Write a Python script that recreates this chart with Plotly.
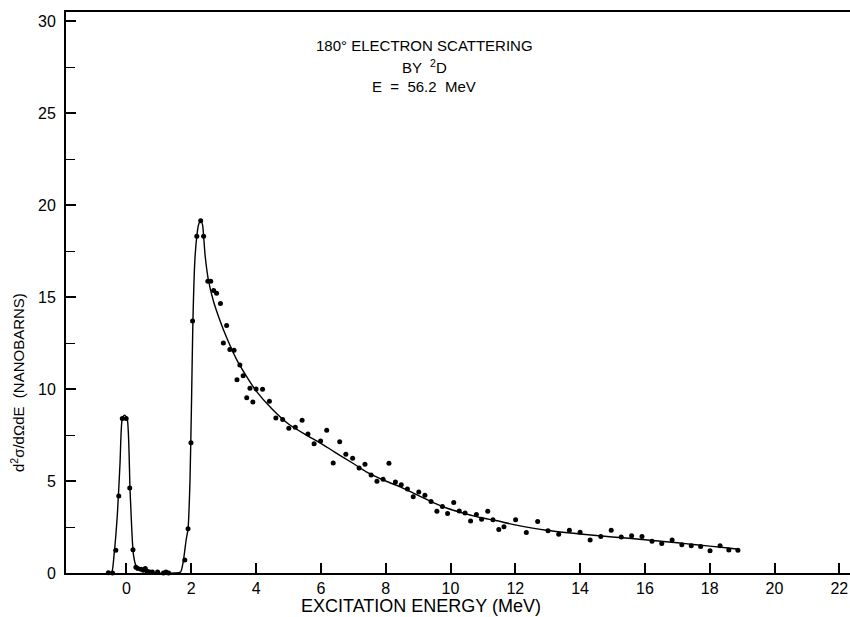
import plotly.graph_objects as go

# Measured cross section (nanobarns) vs excitation energy (MeV)
energy = [
    -0.56, -0.43, -0.33, -0.24, -0.13, -0.01, 0.10, 0.20, 0.29,
    0.35, 0.45, 0.52, 0.58, 0.64, 0.72, 0.80, 0.88, 0.96, 1.05, 1.14, 1.22, 1.30, 1.38, 1.60,
    1.80, 1.90, 1.99, 2.04, 2.17, 2.29, 2.38, 2.51, 2.60, 2.69, 2.78, 2.90, 2.99, 3.09,
    3.19, 3.32, 3.41, 3.50, 3.60, 3.71, 3.81, 3.90, 4.00, 4.20, 4.41, 4.61, 4.82, 5.01,
    5.21, 5.42, 5.60, 5.79, 5.99, 6.18, 6.38, 6.58, 6.77, 6.98, 7.18, 7.36, 7.55, 7.73,
    7.92, 8.10, 8.30, 8.48, 8.67, 8.85, 9.02, 9.21, 9.40, 9.58, 9.75, 9.91, 10.10, 10.27,
    10.45, 10.62, 10.80, 10.96, 11.15, 11.31, 11.49, 11.65, 12.01, 12.34, 12.69, 13.01,
    13.34, 13.67, 14.00, 14.31, 14.64, 14.96, 15.27, 15.59, 15.91, 16.22, 16.52, 16.84,
    17.14, 17.43, 17.72, 18.01, 18.32, 18.59, 18.87,
]
cross_section = [
    0.02, 0.0, 1.23, 4.18, 8.40, 8.40, 4.62, 1.26, 0.31,
    0.25, 0.20, 0.15, 0.25, 0.10, 0.05, 0.05, -0.15, 0.05, -0.10, 0.0, 0.05, 0.0, -0.05, -0.25,
    0.70, 2.40, 7.08, 13.70, 18.30, 19.15, 18.30, 15.85, 15.85, 15.35, 15.20, 14.65, 12.50, 13.45,
    12.15, 12.10, 10.50, 11.30, 10.72, 9.52, 10.04, 9.30, 10.00, 9.99, 9.34, 8.43, 8.34, 7.87,
    7.92, 8.30, 7.55, 7.03, 7.17, 7.76, 5.98, 7.13, 6.45, 6.24, 5.71, 5.91, 5.32, 4.99,
    5.10, 5.97, 4.94, 4.79, 4.56, 4.14, 4.40, 4.22, 3.88, 3.36, 3.61, 3.23, 3.83, 3.37,
    3.26, 2.83, 3.18, 2.92, 3.35, 2.90, 2.37, 2.51, 2.89, 2.20, 2.80, 2.29,
    2.11, 2.33, 2.22, 1.79, 1.99, 2.33, 1.95, 2.02, 1.99, 1.73, 1.61, 1.80,
    1.53, 1.48, 1.44, 1.21, 1.48, 1.25, 1.23,
]

# Smooth curve drawn through the data
curve_energy = [
    -0.56, -0.46, -0.38, -0.28, -0.20, -0.13, -0.06, 0.02, 0.11, 0.21, 0.29, 0.42, 0.57,
    0.73, 0.90, 1.50, 1.67, 1.75, 1.84, 1.90, 1.96, 2.01, 2.05, 2.11, 2.17, 2.22, 2.29,
    2.35, 2.38, 2.43, 2.53, 2.68, 2.89, 3.09, 3.40, 3.70, 4.00, 4.50, 5.00, 5.50, 6.00,
    6.40, 7.00, 7.40, 8.00, 8.45, 8.90, 9.40, 9.90, 10.45, 10.95, 11.40, 11.95, 12.95,
    14.00, 15.00, 16.00, 17.00, 17.50, 18.50, 18.90,
]
curve_value = [
    0.0, 0.0, 1.05, 3.23, 5.95, 8.40, 8.58, 8.40, 4.50, 1.05, 0.42, 0.24, 0.15,
    0.05, 0.0, 0.0, 0.05, 0.60, 1.78, 2.40, 5.04, 9.60, 13.70, 17.00, 18.30, 18.90, 19.15,
    18.90, 18.30, 17.20, 15.90, 14.80, 13.70, 12.80, 11.60, 10.70, 9.90, 8.90, 8.10, 7.55, 7.05,
    6.60, 5.95, 5.50, 5.00, 4.68, 4.30, 3.88, 3.52, 3.23, 3.00, 2.85, 2.63, 2.32,
    2.12, 1.96, 1.81, 1.64, 1.55, 1.37, 1.29,
]

x_ticks = [0, 2, 4, 6, 8, 10, 12, 14, 16, 18, 20, 22]
y_ticks = [0, 5, 10, 15, 20, 25, 30]

W, H = 850, 617
L, R, T, B = 66, 0, 12, 44
FONT = "Liberation Sans"


def px(x):
    return (x - L) / (W - L - R)


def py(y):
    return (H - B - y) / (H - B - T)


fig = go.Figure()
fig.add_trace(go.Scatter(
    x=curve_energy, y=curve_value, mode="lines",
    line=dict(color="black", width=1.4, shape="spline", smoothing=0.6),
    hoverinfo="skip", cliponaxis=False,
))
fig.add_trace(go.Scatter(
    x=energy, y=cross_section, mode="markers",
    marker=dict(color="black", size=5),
    cliponaxis=False,
))

fig.update_layout(
    width=W, height=H,
    margin=dict(l=L, r=R, t=T, b=B),
    paper_bgcolor="white", plot_bgcolor="white",
    showlegend=False,
    font=dict(family=FONT, color="black", size=15),
    xaxis=dict(
        range=[-1.867, 22.33], tickvals=x_ticks,
        ticks="inside", ticklen=10, tickwidth=1.5, tickcolor="black",
        showline=True, linecolor="black", linewidth=2, mirror=True,
        showgrid=False, zeroline=False,
        tickfont=dict(size=16), ticklabelstandoff=0,
    ),
    yaxis=dict(
        range=[0, 30.49], tickvals=y_ticks,
        ticks="inside", ticklen=10, tickwidth=1.5, tickcolor="black",
        minor=dict(dtick=2.5, tick0=0, ticks="inside", ticklen=9, tickwidth=1.2, tickcolor="black"),
        showline=True, linecolor="black", linewidth=2, mirror=False,
        showgrid=False, zeroline=False,
        tickfont=dict(size=16), ticklabelstandoff=5,
    ),
)

annotations = [
    dict(text="180° ELECTRON SCATTERING", x=px(424), y=py(45), size=15),
    dict(text="BY  <sup>2</sup>D", x=px(424), y=py(66), size=15),
    dict(text="E  =  56.2  MeV", x=px(424), y=py(87), size=15),
    dict(text="EXCITATION ENERGY (MeV)", x=px(421), y=py(606), size=18),
]
for a in annotations:
    fig.add_annotation(
        text=a["text"], x=a["x"], y=a["y"], xref="paper", yref="paper",
        xanchor="center", yanchor="middle", showarrow=False,
        font=dict(family=FONT, size=a["size"], color="black"),
    )
fig.add_annotation(
    text="d<sup>2</sup>σ/dΩdE  (NANOBARNS)", x=px(17), y=py(383),
    xref="paper", yref="paper", xanchor="center", yanchor="middle",
    textangle=-90, showarrow=False,
    font=dict(family=FONT, size=15, color="black"),
)

fig.write_html("out.html")
